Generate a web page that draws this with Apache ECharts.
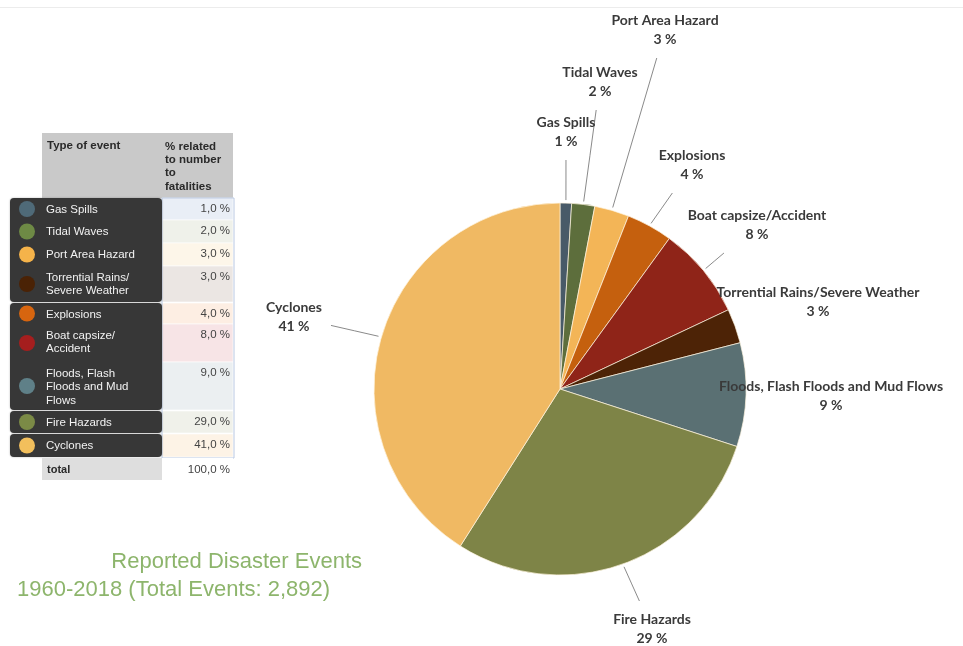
<!DOCTYPE html>
<html><head><meta charset="utf-8">
<script src="https://cdn.jsdelivr.net/npm/echarts@6/dist/echarts.min.js"></script>
<style>html,body{margin:0;padding:0;background:#fff}#c{width:963px;height:646px}</style>
</head><body><div id="c"></div>
<script>
// ---- pie data (clockwise from 12 o'clock) ----
const categories = ['Gas Spills','Tidal Waves','Port Area Hazard','Explosions','Boat capsize/Accident','Torrential Rains/Severe Weather','Floods, Flash Floods and Mud Flows','Fire Hazards','Cyclones'];
const values = [1, 2, 3, 4, 8, 3, 9, 29, 41];
const sliceColors = ['#485a68','#5d6e3c','#f3b557','#c5600e','#8f2418','#4d2306','#5a7073','#7e8447','#f0b963'];
const labelPos = [[566,132],[600,82],[665,30],[692,165],[757,225],[818,302],[831,396],[652,629],[294,317]];
const lineSide = ['bottom','bottom','bottom','bottom','bottom','none','none','top','right'];

// ---- table data ----
const tableHeader = ['Type of event', '% related\nto number\nto\nfatalities'];
const tableEvents = ['Gas Spills','Tidal Waves','Port Area Hazard','Torrential Rains/\nSevere Weather','Explosions','Boat capsize/\nAccident','Floods, Flash\nFloods and Mud\nFlows','Fire Hazards','Cyclones'];
const tableValues = ['1,0 %','2,0 %','3,0 %','3,0 %','4,0 %','8,0 %','9,0 %','29,0 %','41,0 %'];
const tableTotal = ['total', '100,0 %'];
const dotColors = ['#4f6a78','#6e8a45','#f5b34a','#4a2205','#d7650f','#a51e1e','#5f8088','#7b8a46','#f2bf5c'];
const rowBg = ['#e9eef6','#eff1ea','#fdf6e9','#ebe6e3','#fdeee3','#f7e4e6','#ebeff1','#f0f1ea','#fdf3e6'];
const rowTop = [198,220,243,266,303,324,362,411,434];
const rowH =   [22,23,23,36,21,38,48,22,23];
const groups = [[198,302],[303,410],[411,433],[434,457]];

const CX = 560, CY = 389, R = 186;
const total = values.reduce((a, b) => a + b, 0);
const midAngles = [];
let acc = 0;
values.forEach(v => { midAngles.push((acc + v / 2) / total * 360); acc += v; });

const graphics = [];
const tFont = '"Liberation Sans", Arial';
// header
graphics.push({type:'rect', shape:{x:42,y:133,width:191,height:65}, style:{fill:'#c9c9c9'}});
graphics.push({type:'text', x:47, y:140, style:{text:tableHeader[0], font:'bold 11.5px ' + tFont, fill:'#2a2a2a'}});
graphics.push({type:'text', x:165, y:140, style:{text:tableHeader[1], font:'bold 11.5px ' + tFont, fill:'#2a2a2a', lineHeight:13.3}});
// value column backgrounds
for (let i = 0; i < tableValues.length; i++) {
  graphics.push({type:'rect', shape:{x:162,y:rowTop[i],width:71,height:rowH[i]}, style:{fill:rowBg[i], stroke:'#ffffff', lineWidth:0.6}});
  graphics.push({type:'text', x:230, y:rowTop[i]+5, style:{text:tableValues[i], font:'11.5px ' + tFont, fill:'#444', align:'right'}});
}
graphics.push({type:'rect', shape:{x:162,y:198,width:72,height:260}, style:{fill:'none', stroke:'#b9c8e2', lineWidth:1}});
// dark panels
groups.forEach(g => {
  graphics.push({type:'rect', shape:{x:10,y:g[0],width:152,height:g[1]-g[0],r:4}, style:{fill:'#373737', shadowBlur:2, shadowColor:'rgba(0,0,0,0.3)'}});
});
for (let i = 0; i < tableEvents.length; i++) {
  graphics.push({type:'circle', shape:{cx:27, cy:rowTop[i]+rowH[i]/2, r:8}, style:{fill:dotColors[i]}});
  graphics.push({type:'text', x:46, y:rowTop[i]+5, style:{text:tableEvents[i], font:'11.5px ' + tFont, fill:'#f2f2f2', lineHeight:13.5}});
}
// total row
graphics.push({type:'rect', shape:{x:42,y:458,width:120,height:22}, style:{fill:'#dedede'}});
graphics.push({type:'rect', shape:{x:162,y:458,width:71,height:22}, style:{fill:'#ffffff'}});
graphics.push({type:'text', x:47, y:464, style:{text:tableTotal[0], font:'bold 11px ' + tFont, fill:'#2a2a2a'}});
graphics.push({type:'text', x:230, y:464, style:{text:tableTotal[1], font:'11.5px ' + tFont, fill:'#444', align:'right'}});
// caption
graphics.push({type:'text', x:362, y:562, style:{text:'Reported Disaster Events', font:'22px ' + tFont, fill:'#8db56c', align:'right', verticalAlign:'middle'}});
graphics.push({type:'text', x:17, y:590, style:{text:'1960-2018 (Total Events: 2,892)', font:'22px ' + tFont, fill:'#8db56c', verticalAlign:'middle'}});
// faint top rule
graphics.push({type:'rect', shape:{x:0,y:7,width:963,height:1}, style:{fill:'#ececec'}});

const chart = echarts.init(document.getElementById('c'));
chart.setOption({
  backgroundColor: '#ffffff',
  animation: false,
  graphic: graphics,
  series: [{
    type: 'pie',
    center: [CX, CY],
    radius: [0, R],
    startAngle: 90,
    clockwise: true,
    avoidLabelOverlap: false,
    itemStyle: {borderColor: 'rgba(255,245,225,0.7)', borderWidth: 1},
    label: {
      show: true,
      formatter: '{b}\n{c} %',
      fontFamily: 'Lato, "Open Sans", sans-serif',
      fontWeight: 'bold',
      fontSize: 14,
      lineHeight: 19,
      color: '#3a3a3a',
      align: 'center'
    },
    labelLine: {show: true, length: 10, length2: 0, lineStyle: {color: '#8a8a8a', width: 1}},
    labelLayout: function (p) {
      const i = p.dataIndex;
      const lx = labelPos[i][0], ly = labelPos[i][1];
      const res = {x: lx, y: ly, align: 'center', verticalAlign: 'middle'};
      const side = lineSide[i];
      if (side === 'none') return res;
      const w = p.labelRect.width, h = p.labelRect.height, gap = 9;
      const a = midAngles[i] * Math.PI / 180;
      const sx = CX + (R + 3) * Math.sin(a), sy = CY - (R + 3) * Math.cos(a);
      let ex, ey;
      if (side === 'bottom') { ey = ly + h / 2 + gap; ex = sx + (lx - sx) * (sy - ey) / (sy - ly); }
      else if (side === 'top') { ey = ly - h / 2 - gap; ex = sx + (lx - sx) * (ey - sy) / (ly - sy); }
      else { ex = lx + w / 2 + gap; ey = sy + (ly - sy) * (sx - ex) / (sx - lx); }
      res.labelLinePoints = [[sx, sy], [(sx + ex) / 2, (sy + ey) / 2], [ex, ey]];
      return res;
    },
    data: categories.map((name, i) => ({
      name: name,
      value: values[i],
      itemStyle: {color: sliceColors[i]},
      labelLine: {show: lineSide[i] !== 'none'}
    }))
  }]
});
</script>
</body></html>
